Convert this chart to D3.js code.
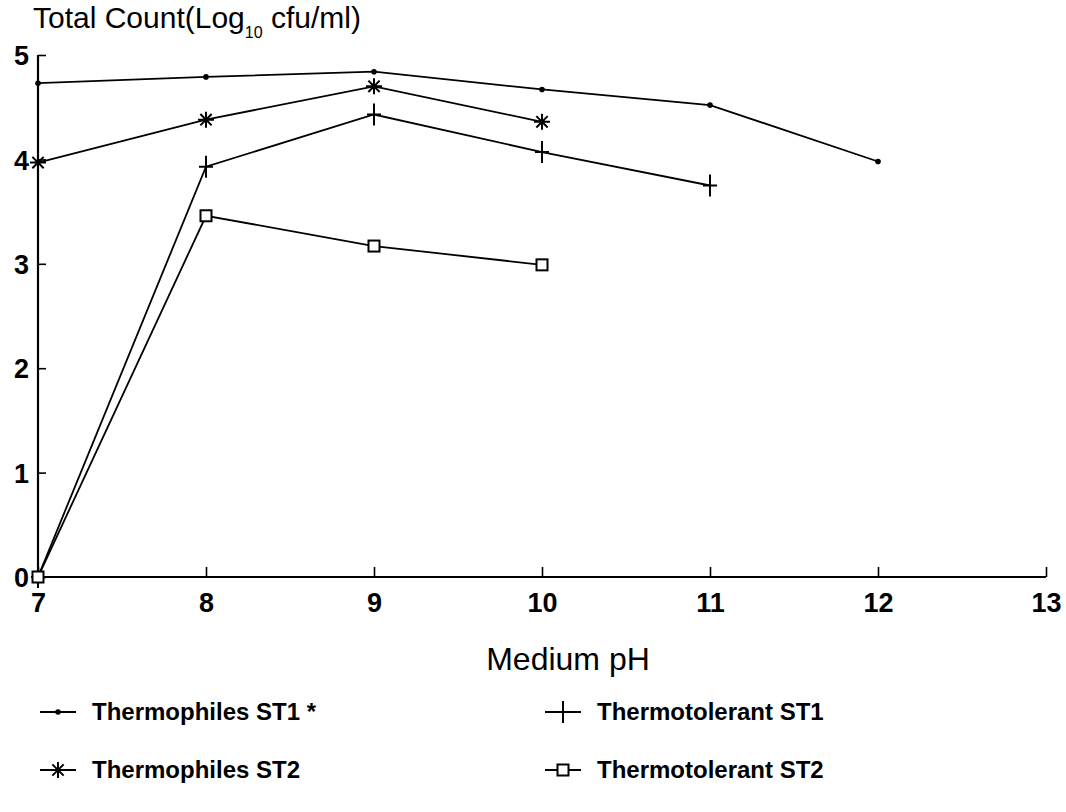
<!DOCTYPE html>
<html><head><meta charset="utf-8">
<script src="https://cdn.jsdelivr.net/npm/d3@7"></script>
<style>
body{margin:0;background:#fff;}
svg text{font-family:"Liberation Sans",Arial,sans-serif;fill:#000;}
</style></head>
<body><svg id="c" width="1066" height="812"></svg>
<script>
const phValues = [7, 8, 9, 10, 11, 12];
const thermophilesST1 = [4.73, 4.79, 4.84, 4.67, 4.52, 3.98];
const thermophilesST2 = [3.97, 4.38, 4.70, 4.36];
const thermotolerantST1 = [0, 3.93, 4.43, 4.07, 3.75];
const thermotolerantST2 = [0, 3.46, 3.17, 2.99];
const xTicks = [7, 8, 9, 10, 11, 12, 13];
const yTicks = [0, 1, 2, 3, 4, 5];
const seriesNames = ["Thermophiles ST1 *", "Thermotolerant ST1", "Thermophiles ST2", "Thermotolerant ST2"];

const series = [
  {name: seriesNames[0], vals: thermophilesST1, marker: "dot"},
  {name: seriesNames[1], vals: thermotolerantST1, marker: "plus"},
  {name: seriesNames[2], vals: thermophilesST2, marker: "star"},
  {name: seriesNames[3], vals: thermotolerantST2, marker: "square"}
];

const svg = d3.select("#c");
const x = d3.scaleLinear().domain([7, 13]).range([38, 1046]);
const y = d3.scaleLinear().domain([0, 5]).range([577, 55]);

// axes
const gx = svg.append("g").attr("transform", `translate(0,${y(0)})`)
  .call(d3.axisBottom(x).tickValues(xTicks).tickSize(-10).tickPadding(16).tickFormat(d3.format("d")));
const gy = svg.append("g").attr("transform", `translate(${x(7)},0)`)
  .call(d3.axisLeft(y).tickValues(yTicks).tickSize(-8).tickPadding(9).tickFormat(d3.format("d")));
[gx, gy].forEach(g => {
  g.select(".domain").attr("stroke", "#000").attr("stroke-width", 2.2);
  g.selectAll(".tick line").attr("stroke", "#000").attr("stroke-width", 1.6);
  g.selectAll(".tick text").attr("font-size", 27).attr("font-weight", "bold")
    .attr("font-family", "'Liberation Sans Narrow','Liberation Sans',sans-serif");
});
gx.select(".domain").attr("d", `M${x(7)},0H${x(13)}`);
gy.select(".domain").attr("d", `M0,${y(0)}V${y(5)}`);
gx.selectAll(".tick text").attr("dy", "0.71em");
gy.selectAll(".tick text").attr("dy", "0.36em");

// title
const t = svg.append("text").attr("x", 33).attr("y", 28).attr("font-size", 30);
t.append("tspan").text("Total Count(Log");
t.append("tspan").attr("dy", 10).attr("font-size", 16).text("10");
t.append("tspan").attr("dy", -10).text(" cfu/ml)");

// x label
svg.append("text").attr("x", 568).attr("y", 670).attr("text-anchor", "middle")
  .attr("font-size", 32).text("Medium pH");

function drawMarker(g, type, cx, cy) {
  if (type === "dot") {
    g.append("circle").attr("cx", cx).attr("cy", cy).attr("r", 2.8).attr("fill", "#000");
  } else if (type === "plus") {
    g.append("path").attr("d", `M${cx},${cy-11}V${cy+11}M${cx-7},${cy}H${cx+7}`)
      .attr("stroke", "#000").attr("stroke-width", 2).attr("fill", "none");
  } else if (type === "star") {
    const r = 8, p = [];
    for (let i = 0; i < 4; i++) {
      const a = i * Math.PI / 4;
      p.push(`M${cx - r*Math.cos(a)},${cy - r*Math.sin(a)}L${cx + r*Math.cos(a)},${cy + r*Math.sin(a)}`);
    }
    g.append("path").attr("d", p.join("")).attr("stroke", "#000").attr("stroke-width", 2).attr("fill", "none");
  } else if (type === "square") {
    g.append("rect").attr("x", cx - 5.5).attr("y", cy - 5.5).attr("width", 11).attr("height", 11)
      .attr("fill", "#fff").attr("stroke", "#000").attr("stroke-width", 2);
  }
}

const line = d3.line().x((d, i) => x(phValues[i])).y(d => y(d));
series.forEach(s => {
  const g = svg.append("g");
  g.append("path").attr("d", line(s.vals)).attr("fill", "none").attr("stroke", "#000").attr("stroke-width", 1.8);
  s.vals.forEach((v, i) => drawMarker(g, s.marker, x(phValues[i]), y(v)));
});

// legend
const legendPos = [[40, 712], [545, 712], [40, 770], [545, 770]];
series.forEach((s, i) => {
  const [lx, ly] = legendPos[i];
  const g = svg.append("g");
  g.append("line").attr("x1", lx).attr("x2", lx + 36).attr("y1", ly).attr("y2", ly)
    .attr("stroke", "#000").attr("stroke-width", 1.8);
  drawMarker(g, s.marker, lx + 18, ly);
  svg.append("text").attr("x", lx + 52).attr("y", ly + 8).attr("font-size", 24)
    .attr("font-weight", "bold").text(s.name);
});
</script></body></html>
